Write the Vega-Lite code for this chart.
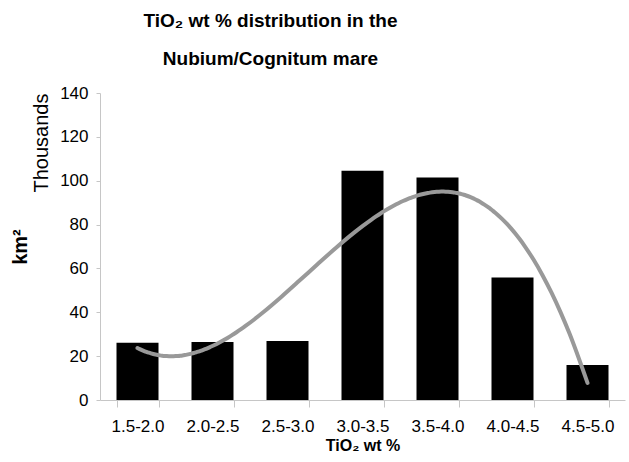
{
  "$schema": "https://vega.github.io/schema/vega-lite/v6.json",
  "width": 525,
  "height": 307,
  "autosize": {"type": "none"},
  "padding": {"left": 100, "top": 93, "right": 4, "bottom": 62},
  "background": "white",
  "title": {
    "text": ["TiO₂ wt % distribution in the", "Nubium/Cognitum mare"],
    "font": "Liberation Sans",
    "fontSize": 19,
    "fontWeight": "bold",
    "color": "black",
    "lineHeight": 38,
    "anchor": "middle",
    "frame": "group",
    "dx": -92,
    "offset": 15
  },
  "config": {
    "view": {"stroke": null},
    "axis": {
      "labelFont": "Liberation Sans",
      "titleFont": "Liberation Sans",
      "labelColor": "black",
      "titleColor": "black",
      "domainColor": "#c6c6c6",
      "tickColor": "#c6c6c6",
      "grid": false
    }
  },
  "data": {
    "values": [
      {"range": "1.5-2.0", "idx": 1, "area": 26.1},
      {"range": "2.0-2.5", "idx": 2, "area": 26.4},
      {"range": "2.5-3.0", "idx": 3, "area": 26.9},
      {"range": "3.0-3.5", "idx": 4, "area": 104.6},
      {"range": "3.5-4.0", "idx": 5, "area": 101.5},
      {"range": "4.0-4.5", "idx": 6, "area": 55.9},
      {"range": "4.5-5.0", "idx": 7, "area": 16.0}
    ]
  },
  "layer": [
    {
      "mark": {"type": "bar", "color": "black"},
      "encoding": {
        "x": {
          "field": "range",
          "type": "nominal",
          "sort": null,
          "scale": {"paddingInner": 0.44, "paddingOuter": 0.22},
          "axis": {
            "title": "TiO₂ wt %",
            "titleFontSize": 16,
            "titleFontWeight": "bold",
            "titlePadding": 3,
            "labelFontSize": 17,
            "labelAngle": 0,
            "labelPadding": 11,
            "tickBand": "extent",
            "tickSize": 7
          }
        },
        "y": {
          "field": "area",
          "type": "quantitative",
          "scale": {"domain": [0, 140]},
          "axis": {
            "title": "km²",
            "titleFontSize": 20,
            "titleFontWeight": "bold",
            "titlePadding": 29,
            "values": [0, 20, 40, 60, 80, 100, 120, 140],
            "labelFontSize": 17,
            "labelPadding": 8,
            "tickSize": 4
          }
        }
      }
    },
    {
      "transform": [
        {"regression": "area", "on": "idx", "method": "poly", "order": 3}
      ],
      "mark": {"type": "line", "color": "#999999", "strokeWidth": 4, "strokeCap": "round", "interpolate": "monotone"},
      "encoding": {
        "x": {
          "field": "idx",
          "type": "quantitative",
          "scale": {"domain": [0.5, 7.5], "nice": false, "zero": false},
          "axis": null
        },
        "y": {
          "field": "area",
          "type": "quantitative",
          "scale": {"domain": [0, 140]},
          "axis": {
            "orient": "left",
            "title": "Thousands",
            "titleFontSize": 20,
            "titleFontWeight": "normal",
            "titleAnchor": "end",
            "titleX": -59,
            "titleY": 0,
            "titleAlign": "right",
            "titleBaseline": "middle",
            "labels": false,
            "ticks": false,
            "domain": false
          }
        }
      }
    }
  ],
  "resolve": {"scale": {"x": "independent"}, "axis": {"y": "independent"}}
}
